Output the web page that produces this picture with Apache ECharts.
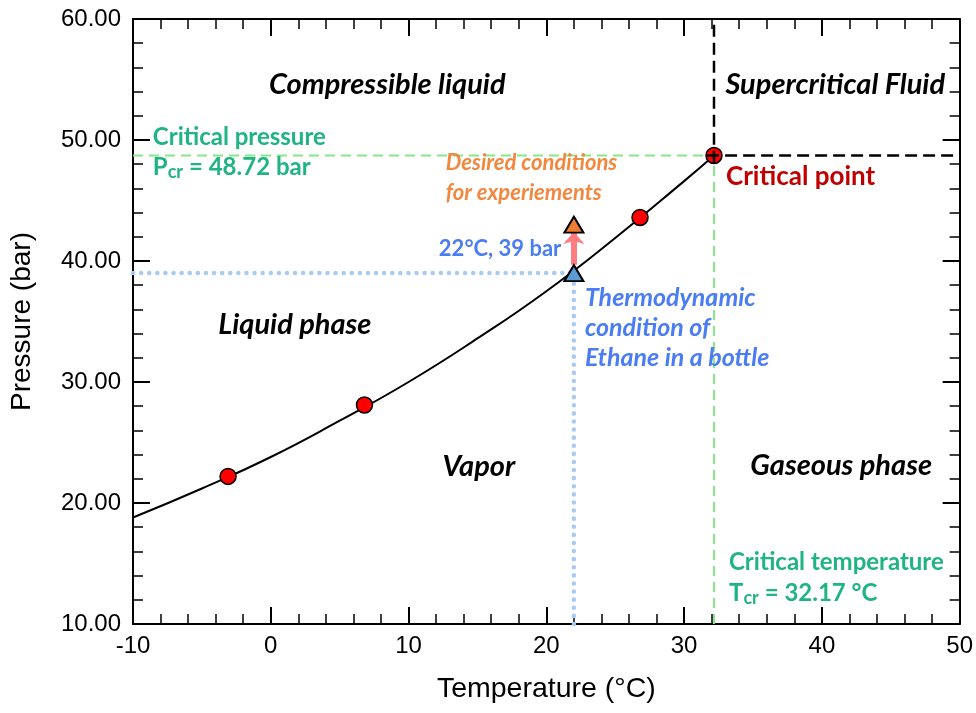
<!DOCTYPE html>
<html>
<head>
<meta charset="utf-8">
<script src="https://cdn.jsdelivr.net/npm/echarts@6/dist/echarts.min.js"></script>
<style>
html,body{margin:0;padding:0;background:#fff;}
#chart{width:976px;height:713px;}
</style>
</head>
<body>
<div id="chart"></div>
<script>
// ---- data ----
var xTicks = [-10, 0, 10, 20, 30, 40, 50];
var yTicks = [10, 20, 30, 40, 50, 60];
// saturation (vapor-pressure) curve
var curveT = [-10, -5, 0, 5, 10, 15, 20, 25, 30, 32.17];
var curveP = [18.8, 21.2, 23.8, 26.8, 30.0, 33.6, 37.5, 41.9, 46.6, 48.72];
// red measured points
var pointT = [-3.1, 6.8, 26.8, 32.17];
var pointP = [22.2, 28.1, 43.6, 48.72];
// critical point
var critT = 32.17;
var critP = 48.72;
// bottle condition and desired condition
var bottleT = 22, bottleP = 39;
var desiredT = 22, desiredP = 43;
// region annotation texts and their data positions
var annText = ['Compressible liquid', 'Supercritical Fluid', 'Liquid phase', 'Vapor', 'Gaseous phase'];
var annT = [8.46, 33.0, 1.75, 15.1, 41.4];
var annP = [54.55, 54.55, 34.7, 23.0, 23.05];
var annAlign = ['center', 'left', 'center', 'center', 'center'];

var greenText = '#1FB482';
var blueText = '#4A7CF3';
var orangeText = '#F2873F';
var redText = '#C00000';
var annFont = 'Lato';

function zip(a, b) { return a.map(function (v, i) { return [v, b[i]]; }); }

var chart = echarts.init(document.getElementById('chart'), null, { renderer: 'canvas' });

function axisCommon(extra) {
  var base = {
    type: 'value',
    axisLine: { show: true, onZero: false, lineStyle: { color: '#000', width: 2 } },
    axisTick: { show: true, inside: true, length: 17, lineStyle: { color: '#000', width: 2 } },
    minorTick: { show: true, splitNumber: 5, length: 10, lineStyle: { color: '#000', width: 1.5 } },
    splitLine: { show: false },
    minorSplitLine: { show: false }
  };
  return Object.assign(base, extra);
}

var labelStyleBase = { fontFamily: annFont, fontWeight: 'bold', fontStyle: 'italic', fontSize: 29, color: '#000', opacity: 1 };

var annData = annText.map(function (t, i) {
  return {
    value: [annT[i], annP[i]],
    label: Object.assign({ show: true, formatter: t, position: 'inside', align: annAlign[i], verticalAlign: 'middle' }, labelStyleBase)
  };
});

function textItem(T, P, txt, style, rich) {
  return {
    value: [T, P],
    label: Object.assign({ show: true, opacity: 1, formatter: txt, position: 'inside', align: 'left', verticalAlign: 'middle', rich: rich }, style)
  };
}

var subRich = { sub: { fontFamily: annFont, fontWeight: 'bold', fontSize: 18, color: greenText, lineHeight: 8, verticalAlign: 'bottom' } };

var extraText = [
  textItem(-8.56, 50.25, 'Critical pressure', { fontFamily: annFont, fontWeight: 'bold', fontSize: 24, color: greenText }),
  textItem(-8.56, 47.75, 'P{sub|cr} = 48.72 bar', { fontFamily: annFont, fontWeight: 'bold', fontSize: 24, color: greenText, lineHeight: 28 }, subRich),
  textItem(33.26, 15.12, 'Critical temperature', { fontFamily: annFont, fontWeight: 'bold', fontSize: 24, color: greenText }),
  textItem(33.26, 12.55, 'T{sub|cr} = 32.17 °C', { fontFamily: annFont, fontWeight: 'bold', fontSize: 24, color: greenText, lineHeight: 28 }, subRich),
  textItem(12.7, 46.85, 'Desired conditions\nfor experiements', { fontFamily: annFont, fontWeight: 'bold', fontStyle: 'italic', fontSize: 22, color: orangeText, lineHeight: 30 }),
  textItem(12.2, 41.0, '22°C, 39 bar', { fontFamily: annFont, fontWeight: 'bold', fontSize: 22, color: blueText }),
  textItem(33.04, 47.0, 'Critical point', { fontFamily: annFont, fontWeight: 'bold', fontSize: 26, color: redText }),
  textItem(22.8, 34.46, 'Thermodynamic\ncondition of\nEthane in a bottle', { fontFamily: annFont, fontWeight: 'bold', fontStyle: 'italic', fontSize: 25, color: blueText, lineHeight: 30 })
];

var option = {
  animation: false,
  backgroundColor: '#fff',
  grid: { left: 130, right: 14, top: 19, bottom: 89, containLabel: false },
  xAxis: [
    axisCommon({
      min: -10, max: 50, interval: 10, position: 'bottom',
      axisLabel: { color: '#000', fontSize: 24, fontFamily: 'Liberation Sans', margin: 10 },
      name: 'Temperature (°C)', nameLocation: 'middle', nameGap: 51,
      nameTextStyle: { color: '#000', fontSize: 28.5, fontFamily: 'Liberation Sans' }
    }),
    axisCommon({ min: -10, max: 50, interval: 10, position: 'top', axisLabel: { show: false } })
  ],
  yAxis: [
    axisCommon({
      min: 10, max: 60, interval: 10, position: 'left',
      axisLabel: { color: '#000', fontSize: 24, fontFamily: 'Liberation Sans', margin: 12, formatter: function (v) { return v.toFixed(2); } },
      name: 'Pressure (bar)', nameLocation: 'middle', nameGap: 97,
      nameTextStyle: { color: '#000', fontSize: 28, fontFamily: 'Liberation Sans' }
    }),
    axisCommon({ min: 10, max: 60, interval: 10, position: 'right', axisLabel: { show: false } })
  ],
  series: [
    {
      name: 'saturation curve', type: 'line', data: zip(curveT, curveP), smooth: 0.5,
      showSymbol: false, lineStyle: { color: '#000', width: 2 }, z: 3, silent: true
    },
    {
      name: 'green horizontal', type: 'line', data: [[-10, critP], [critT, critP]], showSymbol: false,
      lineStyle: { color: '#86E886', width: 2, type: [10, 6] }, z: 2, silent: true
    },
    {
      name: 'green vertical', type: 'line', data: [[critT, 10], [critT, critP]], showSymbol: false,
      lineStyle: { color: '#86E886', width: 2, type: [10, 6] }, z: 2, silent: true
    },
    {
      name: 'blue horizontal', type: 'line', data: [[-10, bottleP], [bottleT, bottleP]], showSymbol: false,
      lineStyle: { color: '#A9CBEF', width: 4.5, type: [0.1, 8], cap: 'round' }, z: 2, silent: true
    },
    {
      name: 'blue vertical', type: 'line', data: [[bottleT, 10], [bottleT, bottleP]], showSymbol: false,
      lineStyle: { color: '#A9CBEF', width: 4.5, type: [0.1, 8], cap: 'round' }, z: 2, silent: true
    },
    {
      name: 'points', type: 'scatter', data: zip(pointT, pointP), symbol: 'circle', symbolSize: 16,
      itemStyle: { color: '#FF0000', borderColor: '#000', borderWidth: 1.5, opacity: 1 }, z: 5, silent: true
    },
    {
      name: 'black vertical', type: 'line', data: [[critT, critP - 0.6], [critT, 60]], showSymbol: false,
      lineStyle: { color: '#000', width: 2.5, type: [12, 6] }, z: 6, silent: true
    },
    {
      name: 'black horizontal', type: 'line', data: [[critT - 0.5, critP], [50, critP]], showSymbol: false,
      lineStyle: { color: '#000', width: 2.5, type: [12, 6] }, z: 6, silent: true
    },
    {
      name: 'bottle', type: 'scatter', data: [[bottleT, bottleP]], symbol: 'triangle', symbolSize: [19, 16],
      itemStyle: { color: '#5B9BD5', borderColor: '#000', borderWidth: 2, opacity: 1 }, z: 7, silent: true,
      markLine: {
        silent: true, symbol: ['none', 'arrow'], symbolSize: [16, 12],
        label: { show: false },
        lineStyle: { color: '#FF7C80', width: 6, type: 'solid', opacity: 1 },
        data: [[{ coord: [bottleT, bottleP + 0.7] }, { coord: [desiredT, desiredP - 0.6] }]]
      }
    },
    {
      name: 'desired', type: 'scatter', data: [[desiredT, desiredP]], symbol: 'triangle', symbolSize: [19, 16],
      itemStyle: { color: '#ED7D31', borderColor: '#000', borderWidth: 2, opacity: 1 }, z: 7, silent: true
    },
    {
      name: 'labels', type: 'scatter', data: annData.concat(extraText), symbol: 'circle', symbolSize: 1,
      itemStyle: { color: 'rgba(0,0,0,0)', opacity: 1 }, z: 8, silent: true, labelLayout: { hideOverlap: false }
    }
  ]
};
chart.setOption(option);
</script>
</body>
</html>
